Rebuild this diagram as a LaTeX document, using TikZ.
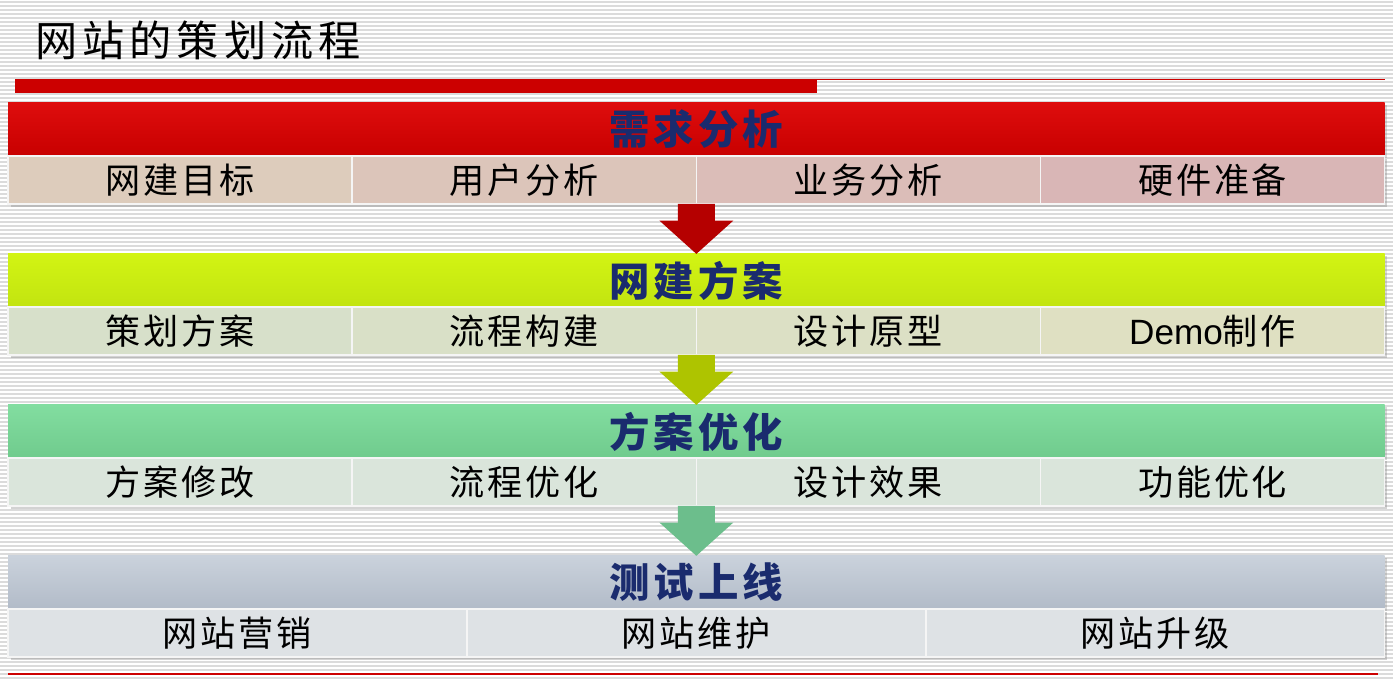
\documentclass[tikz,border=0pt]{standalone}
\usepackage{fontspec}
\setmainfont{Liberation Sans}
\newfontfamily\cjk{Noto Sans CJK SC}
\usetikzlibrary{positioning, calc, arrows.meta, shadows}

\definecolor{barRed}{HTML}{CC0000}
\definecolor{navyText}{HTML}{1A2B6E}
\definecolor{redTop}{HTML}{DE0D0D}
\definecolor{redBot}{HTML}{C80000}
\definecolor{limeTop}{HTML}{D2F413}
\definecolor{limeBot}{HTML}{C2E410}
\definecolor{mintTop}{HTML}{82DDA0}
\definecolor{mintBot}{HTML}{70CB8D}
\definecolor{slateTop}{HTML}{CAD2DC}
\definecolor{slateBot}{HTML}{B2BBC8}
\definecolor{arrRed}{HTML}{B50000}
\definecolor{arrLime}{HTML}{AEC400}
\definecolor{arrMint}{HTML}{6CBE8C}
% cell fills
\definecolor{needA}{HTML}{DDCCBC}
\definecolor{needB}{HTML}{DCC5BA}
\definecolor{needC}{HTML}{DBBDB8}
\definecolor{needD}{HTML}{D9B6B6}
\definecolor{planA}{HTML}{D7E0CA}
\definecolor{planB}{HTML}{D9E0C7}
\definecolor{planC}{HTML}{DCE0C5}
\definecolor{planD}{HTML}{DFE0C2}
\definecolor{tuneX}{HTML}{DAE5DB}
\definecolor{testX}{HTML}{DEE2E5}

\tikzstyle{Stripe} = [gray!28, line width=0.7pt]
\tikzstyle{Head} = [
minimum width=27.54cm, minimum height=1.06cm,
inner sep=0pt, outer sep=0pt, text=navyText,
font={\cjk\bfseries\fontsize{23}{27}\selectfont\addfontfeature{LetterSpace=10}},
drop shadow={opacity=0.3, shadow xshift=1.2pt, shadow yshift=-1.2pt}]
\tikzstyle{Cell} = [
minimum width=6.885cm, minimum height=0.96cm,
inner sep=0pt, outer sep=0pt, draw=white!92!gray, line width=0.8pt,
font={\cjk\fontsize{20}{24}\selectfont\addfontfeature{LetterSpace=8}},
drop shadow={opacity=0.35, shadow xshift=1.5pt, shadow yshift=-1.5pt}]
\tikzstyle{Wide} = [Cell, minimum width=9.18cm]
\tikzstyle{Flow} = [line width=21pt, -{Triangle[length=19pt, width=41pt]}]

\begin{document}
\begin{tikzpicture}[x=0.02cm, y=-0.02cm]
    \useasboundingbox (0,0) rectangle (1393,679);
    \foreach \y in {2,6,...,678}
        \draw[Stripe] (0,\y) -- (1393,\y);

    % title and rule
    \node[anchor=west, inner sep=0pt, font={\cjk\fontsize{24}{28}\selectfont\addfontfeature{LetterSpace=12}}] (title) at (35,40) {网站的策划流程};
    \fill[barRed] (15,79) rectangle (817,93);
    \draw[barRed, line width=0.6pt] (817,79.5) -- (1385,79.5);

    % stage 1
    \node[Head, top color=redTop, bottom color=redBot, anchor=north west] (h1) at (8,103) {需求分析};
    \node[Cell, fill=needA, below right=0pt and 0pt of h1.south west] (a1) {网建目标};
    \node[Cell, fill=needB, right=0pt of a1] (b1) {用户分析};
    \node[Cell, fill=needC, right=0pt of b1] (c1) {业务分析};
    \node[Cell, fill=needD, right=0pt of c1] (d1) {硬件准备};

    % stage 2
    \node[Head, top color=limeTop, bottom color=limeBot, below right=1cm and 0pt of a1.south west] (h2) {网建方案};
    \node[Cell, fill=planA, below right=0pt and 0pt of h2.south west] (a2) {策划方案};
    \node[Cell, fill=planB, right=0pt of a2] (b2) {流程构建};
    \node[Cell, fill=planC, right=0pt of b2] (c2) {设计原型};
    \node[Cell, fill=planD, right=0pt of c2] (d2) {{\rmfamily Demo}制作};

    % stage 3
    \node[Head, top color=mintTop, bottom color=mintBot, below right=1cm and 0pt of a2.south west] (h3) {方案优化};
    \node[Cell, fill=tuneX, below right=0pt and 0pt of h3.south west] (a3) {方案修改};
    \node[Cell, fill=tuneX, right=0pt of a3] (b3) {流程优化};
    \node[Cell, fill=tuneX, right=0pt of b3] (c3) {设计效果};
    \node[Cell, fill=tuneX, right=0pt of c3] (d3) {功能优化};

    % stage 4
    \node[Head, top color=slateTop, bottom color=slateBot, below right=1cm and 0pt of a3.south west] (h4) {测试上线};
    \node[Wide, fill=testX, below right=0pt and 0pt of h4.south west] (a4) {网站营销};
    \node[Wide, fill=testX, right=0pt of a4] (b4) {网站维护};
    \node[Wide, fill=testX, right=0pt of b4] (c4) {网站升级};

    \draw[Flow, arrRed] (b1.south east) -- (h2.north);
    \draw[Flow, arrLime] (b2.south east) -- (h3.north);
    \draw[Flow, arrMint] (b3.south east) -- (h4.north);

    \draw[barRed, line width=0.8pt] (8,674) -- (1378,674);
\end{tikzpicture}
\end{document}
